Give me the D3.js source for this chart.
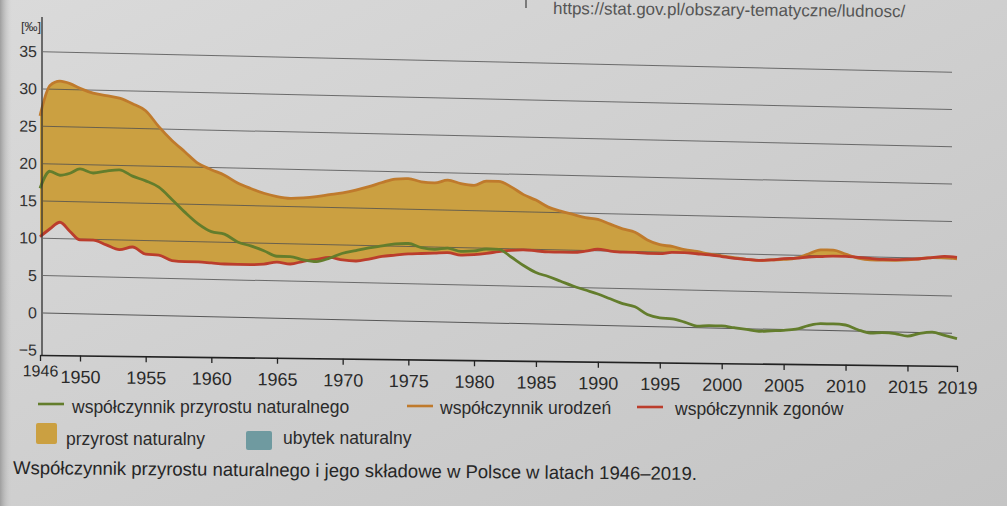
<!doctype html>
<html>
<head>
<meta charset="utf-8"/>
<title>Współczynnik przyrostu naturalnego w Polsce 1946-2019</title>
<script src="https://d3js.org/d3.v7.min.js"></script>
<style>
  body { margin: 0; background: #cdcdcd; }
  svg { display: block; }
</style>
</head>
<body>
<div id="wykres"></div>
<script>
// lata i dane (promile)
var lata = d3.range(1946, 2020);

var urodzenia = [
  26.4, 30.5, 31.1, 30.8, 30.2, 29.6, 29.3, 29.0, 28.3, 27.4,
  25.3, 23.5, 22.0, 20.5, 19.7, 19.0, 18.0, 17.3, 16.7, 16.3,
  16.1, 16.2, 16.4, 16.7, 17.0, 17.4, 17.9, 18.5, 19.0, 19.1,
  18.7, 18.6, 19.0, 18.6, 18.4, 19.0, 19.0, 18.3, 17.3, 16.6,
  15.7, 15.2, 14.8, 14.4, 14.2, 13.6, 13.0, 12.6, 11.6, 11.0,
  10.8, 10.4, 10.2, 9.9, 9.7, 9.5, 9.3, 9.2, 9.3, 9.4,
  9.6, 10.2, 10.8, 10.8, 10.3, 9.8, 9.6, 9.6, 9.6, 9.7,
  9.9, 10.1, 10.1, 10.0
];

var zgony = [
  10.2, 11.3, 12.2, 11.0, 9.9, 9.9, 9.3, 8.7, 9.1, 8.2,
  8.1, 7.4, 7.3, 7.3, 7.2, 7.1, 7.1, 7.1, 7.2, 7.5,
  7.3, 7.7, 8.0, 8.3, 8.0, 7.9, 8.2, 8.6, 8.8, 9.0,
  9.1, 9.2, 9.3, 9.0, 9.1, 9.3, 9.6, 9.8, 9.9, 9.8,
  9.7, 9.7, 9.7, 9.9, 10.2, 10.0, 9.9, 9.9, 9.8, 9.8,
  10.0, 10.0, 9.9, 9.8, 9.6, 9.4, 9.3, 9.2, 9.3, 9.5,
  9.6, 9.8, 9.9, 10.0, 10.0, 9.9, 9.8, 9.7, 9.7, 9.8,
  9.9, 10.1, 10.3, 10.2
];

var przyrost = [
  16.7, 19.0, 18.5, 18.8, 19.4, 18.9, 19.2, 19.4, 18.6, 18.0,
  17.2, 15.6, 13.9, 12.4, 11.4, 11.1, 10.1, 9.6, 9.0, 8.3,
  8.3, 7.9, 7.7, 8.2, 8.9, 9.3, 9.7, 10.0, 10.3, 10.4,
  9.9, 9.7, 9.9, 9.5, 9.6, 9.9, 9.9, 8.9, 7.8, 6.9,
  6.4, 5.8, 5.2, 4.7, 4.2, 3.6, 3.0, 2.6, 1.6, 1.2,
  1.1, 0.7, 0.2, 0.3, 0.3, 0.1, -0.1, -0.3, -0.2, -0.1,
  0.1, 0.6, 0.9, 0.9, 0.8, 0.2, -0.2, -0.1, -0.2, -0.5,
  -0.1, 0.1, -0.3, -0.7
];

var rokTicks = [1946, 1950, 1955, 1960, 1965, 1970, 1975, 1980, 1985, 1990, 1995, 2000, 2005, 2010, 2015, 2019];
var wartTicks = [-5, 0, 5, 10, 15, 20, 25, 30, 35];

var kolZolty = "#cba041";
var kolNiebieski = "#6f9aa0";
var kolUrodzenia = "#bf7a2c";
var kolZgony = "#bb3d2c";
var kolPrzyrost = "#637d2c";

var svg = d3.select("#wykres")
  .append("svg")
  .attr("width", 1007)
  .attr("height", 506);

// tlo (szara kartka)
var defs = svg.append("defs");
var tlo = defs.append("linearGradient").attr("id", "tlo")
  .attr("x1", 0).attr("y1", 0).attr("x2", 1).attr("y2", 1);
tlo.append("stop").attr("offset", 0).attr("stop-color", "#dadada");
tlo.append("stop").attr("offset", 1).attr("stop-color", "#c4c4c4");
var brzeg = defs.append("linearGradient").attr("id", "brzeg");
brzeg.append("stop").attr("offset", 0).attr("stop-color", "#9e9e9e");
brzeg.append("stop").attr("offset", 1).attr("stop-color", "#cfcfcf").attr("stop-opacity", 0);

svg.append("rect").attr("width", 1007).attr("height", 506).attr("fill", "url(#tlo)");
svg.append("rect").attr("width", 12).attr("height", 506).attr("fill", "url(#brzeg)");

// skale
var x = d3.scaleLinear().domain([1946, 1950, 1980, 2019]).range([40, 80, 474, 957]);
var y = d3.scaleLinear().domain([-5, 35]).range([360.5, 62]);

var dane = lata.map(function(r, i) {
  return { rok: r, u: urodzenia[i], z: zgony[i], n: przyrost[i] };
});

// zdjecie jest lekko przekrzywione
var b = 0.0225;
var wykres = svg.append("g")
  .attr("transform", "matrix(1," + b + ",0,1,0," + (-b * 500) + ")");

// pola: przyrost i ubytek naturalny
wykres.append("path")
  .datum(dane)
  .attr("fill", kolZolty)
  .attr("d", d3.area()
    .x(function(d) { return x(d.rok); })
    .y0(function(d) { return y(d.z); })
    .y1(function(d) { return y(Math.max(d.u, d.z)); })
    .curve(d3.curveMonotoneX));

wykres.append("path")
  .datum(dane)
  .attr("fill", kolNiebieski)
  .attr("d", d3.area()
    .x(function(d) { return x(d.rok); })
    .y0(function(d) { return y(d.z); })
    .y1(function(d) { return y(Math.min(d.u, d.z)); })
    .curve(d3.curveMonotoneX));

// linie siatki
wykres.selectAll(".siatka")
  .data(wartTicks.filter(function(v) { return v > -5; }))
  .enter().append("line")
  .attr("class", "siatka")
  .attr("x1", 43)
  .attr("x2", 952)
  .attr("y1", function(d) { return y(d); })
  .attr("y2", function(d) { return y(d); })
  .attr("stroke", function(d) { return d == 0 ? "#3a3a3a" : "#505050"; })
  .attr("stroke-opacity", 0.8)
  .attr("stroke-width", 1);

// os Y - etykiety
var osY = wykres.append("g")
  .attr("transform", "translate(37,0)")
  .call(d3.axisLeft(y).tickValues(wartTicks).tickSize(0).tickPadding(0));
osY.select(".domain").remove();
osY.selectAll("text")
  .attr("font-family", "'Liberation Sans Narrow', 'Liberation Sans', Arial, sans-serif")
  .attr("font-size", 16)
  .attr("fill", "#333");

// linie danych
function linia(pole, kolor) {
  wykres.append("path")
    .datum(dane)
    .attr("fill", "none")
    .attr("stroke", kolor)
    .attr("stroke-width", 2.8)
    .attr("stroke-linejoin", "round")
    .attr("d", d3.line()
      .x(function(d) { return x(d.rok); })
      .y(function(d) { return y(d[pole]); })
      .curve(d3.curveMonotoneX));
}
linia("u", kolUrodzenia);
linia("z", kolZgony);
linia("n", kolPrzyrost);

// pionowa os
svg.append("line")
  .attr("x1", 42).attr("x2", 42)
  .attr("y1", 17).attr("y2", 356)
  .attr("stroke", "#2e2e2e")
  .attr("stroke-width", 1.3);

svg.append("text")
  .attr("x", 21).attr("y", 31)
  .attr("font-family", "'Liberation Sans Narrow', 'Liberation Sans', Arial, sans-serif")
  .attr("font-size", 13)
  .attr("fill", "#333")
  .text("[‰]");

// os X (mniejsze nachylenie u dolu zdjecia)
var osXg = svg.append("g")
  .attr("transform", "matrix(1,0.012,0,1,0," + (355 - 0.012 * 40) + ")");
osXg.call(d3.axisBottom(x)
  .tickValues(rokTicks)
  .tickSize(6)
  .tickSizeOuter(0)
  .tickPadding(9)
  .tickFormat(d3.format("d")));
osXg.select(".domain").attr("stroke", "#222").attr("stroke-width", 1.6);
osXg.selectAll(".tick line").attr("stroke", "#222").attr("stroke-width", 1.3);
osXg.selectAll("text")
  .attr("font-family", "'Liberation Sans Narrow', 'Liberation Sans', Arial, sans-serif")
  .attr("font-size", 18)
  .attr("fill", "#2a2a2a");
osXg.selectAll(".tick")
  .filter(function(d) { return d == 1946; })
  .select("text")
  .attr("font-size", 16)
  .attr("y", 10);

// legenda
var fontLeg = "'Liberation Sans', Arial, sans-serif";
var legLinie = [
  { x: 38, y: 404, kolor: kolPrzyrost, tx: 72, ty: 413, tekst: "współczynnik przyrostu naturalnego" },
  { x: 407, y: 406, kolor: kolUrodzenia, tx: 440, ty: 414, tekst: "współczynnik urodzeń" },
  { x: 637, y: 407, kolor: kolZgony, tx: 675, ty: 415, tekst: "współczynnik zgonów" }
];
legLinie.forEach(function(l) {
  svg.append("line")
    .attr("x1", l.x).attr("x2", l.x + 26)
    .attr("y1", l.y).attr("y2", l.y)
    .attr("stroke", l.kolor)
    .attr("stroke-width", 2.6);
  svg.append("text")
    .attr("x", l.tx).attr("y", l.ty)
    .attr("font-family", fontLeg)
    .attr("font-size", 17.5)
    .attr("fill", "#2b2b2b")
    .text(l.tekst);
});

var legPola = [
  { x: 36, y: 423, w: 21, h: 21, kolor: kolZolty, tx: 66, ty: 445, tekst: "przyrost naturalny" },
  { x: 246, y: 431, w: 26, h: 19, kolor: kolNiebieski, tx: 283, ty: 444, tekst: "ubytek naturalny" }
];
legPola.forEach(function(l) {
  svg.append("rect")
    .attr("x", l.x).attr("y", l.y)
    .attr("width", l.w).attr("height", l.h)
    .attr("rx", 2)
    .attr("fill", l.kolor);
  svg.append("text")
    .attr("x", l.tx).attr("y", l.ty)
    .attr("font-family", fontLeg)
    .attr("font-size", 17.5)
    .attr("fill", "#2b2b2b")
    .text(l.tekst);
});

// podpis
svg.append("text")
  .attr("x", 13).attr("y", 474)
  .attr("transform", "rotate(0.5,13,474)")
  .attr("font-family", fontLeg)
  .attr("font-size", 18.5)
  .attr("fill", "#262626")
  .text("Współczynnik przyrostu naturalnego i jego składowe w Polsce w latach 1946–2019.");

// zrodlo u gory
svg.append("line")
  .attr("x1", 526).attr("x2", 526)
  .attr("y1", 0).attr("y2", 8)
  .attr("stroke", "#555")
  .attr("stroke-width", 1.4);
svg.append("text")
  .attr("x", 553).attr("y", 14)
  .attr("transform", "rotate(0.5,553,14)")
  .attr("font-family", fontLeg)
  .attr("font-size", 17)
  .attr("fill", "#555")
  .text("https://stat.gov.pl/obszary-tematyczne/ludnosc/");
</script>
</body>
</html>
